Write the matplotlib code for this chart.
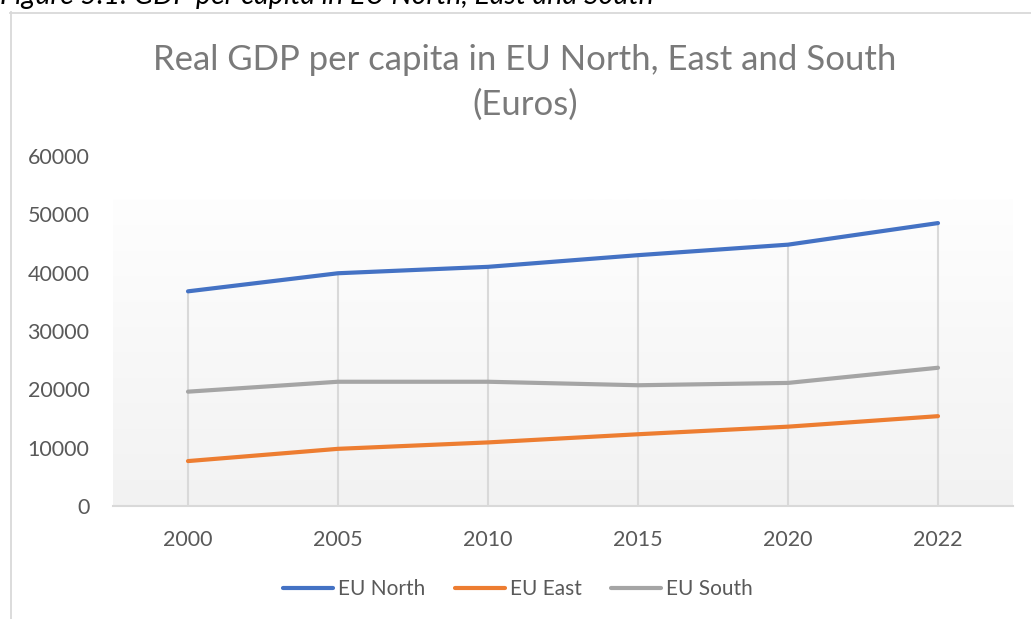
import numpy as np
import matplotlib
matplotlib.use("Agg")
import matplotlib.pyplot as plt
from matplotlib.lines import Line2D

YEARS = ["2000", "2005", "2010", "2015", "2020", "2022"]
EU_NORTH = [36800, 39900, 41000, 43000, 44800, 48500]
EU_EAST = [7700, 9800, 10900, 12300, 13600, 15400]
EU_SOUTH = [19600, 21300, 21300, 20700, 21100, 23700]

SERIES = [
    ("EU North", EU_NORTH, "#4472c4"),
    ("EU East", EU_EAST, "#ed7d31"),
    ("EU South", EU_SOUTH, "#a5a5a5"),
]

W, H = 1031, 619
FONT = "Lato"
GRID = "#d9d9d9"
TEXT = "#595959"

plt.rcParams["font.family"] = [FONT, "DejaVu Sans"]

fig = plt.figure(figsize=(W / 100, H / 100), dpi=100)


def px(x0, y0, x1, y1):
    # pixel box (top-left origin) -> figure fraction rect
    return [x0 / W, 1 - y1 / H, (x1 - x0) / W, (y1 - y0) / H]


# caption above the chart box (cut off by the page)
fig.text(0.0, 1 - 4 / H, "Figure 5.1: GDP per capita in EU North, East and South",
         fontsize=20.5, style="italic", color="black", va="baseline", ha="left")

# chart frame
fig.add_artist(Line2D([10.5 / W, 10.5 / W], [0, 1 - 12 / H], color=GRID, lw=1.3))
fig.add_artist(Line2D([10 / W, 1], [1 - 12.5 / H, 1 - 12.5 / H], color=GRID, lw=1.3))

ax = fig.add_axes(px(113, 156, 1013, 506))
x = np.arange(len(YEARS))

# plot-area gradient
grad = np.linspace(0, 1, 256).reshape(-1, 1)
top = np.array([0xfe, 0xfe, 0xfe]) / 255
bot = np.array([0xf2, 0xf2, 0xf2]) / 255
img = top + (bot - top) * grad[..., None]
ax.imshow(img, extent=(-0.5, len(YEARS) - 0.5, 0, 52500), aspect="auto",
          zorder=0, interpolation="bilinear")

# drop lines from the top series down to the axis
ax.vlines(x, 0, EU_NORTH, color=GRID, lw=1.5, zorder=1)

for name, vals, col in SERIES:
    ax.plot(x, vals, color=col, lw=3.0, label=name, solid_capstyle="round",
            zorder=3)

ax.set_xlim(-0.5, len(YEARS) - 0.5)
ax.set_ylim(0, 60000)
ax.set_xticks(x)
ax.set_xticklabels(YEARS)
ax.set_yticks(np.arange(0, 60001, 10000))
ax.tick_params(axis="both", length=0, labelsize=15.5, labelcolor=TEXT)
ax.tick_params(axis="y", pad=17)
ax.tick_params(axis="x", pad=17)
for s in ["top", "right", "left"]:
    ax.spines[s].set_visible(False)
ax.spines["bottom"].set_color(GRID)
ax.spines["bottom"].set_linewidth(1.5)
ax.set_facecolor("none")

fig.text(525 / W, 1 - 60 / H, "Real GDP per capita in EU North, East and South",
         fontsize=25, color="#7a7a7a", ha="center", va="center")
fig.text(525 / W, 1 - 105 / H, "(Euros)",
         fontsize=25, color="#7a7a7a", ha="center", va="center")

fig.legend(loc="center", bbox_to_anchor=(518 / W, 1 - 589 / H), ncol=3,
           frameon=False, fontsize=15, labelcolor=TEXT, handlelength=2.4,
           handletextpad=0.25, columnspacing=1.4)

fig.savefig("out.png", dpi=100)
